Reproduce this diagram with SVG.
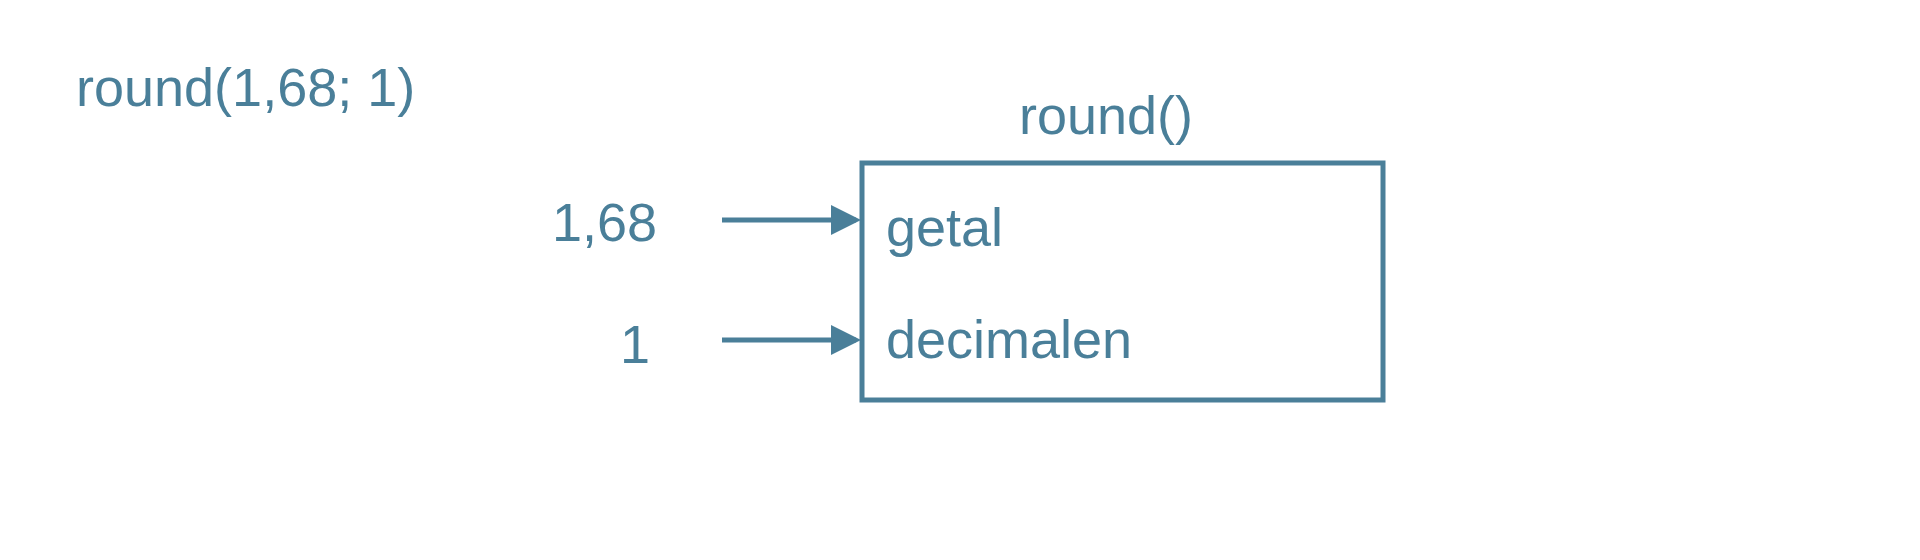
<svg xmlns="http://www.w3.org/2000/svg" width="1920" height="560" viewBox="0 0 1920 560">
<style>
text{font-family:"Liberation Sans",Arial,sans-serif;fill:#4a7f99;font-size:54px}
.c{stroke:#4a7f99;stroke-width:5;fill:none}
</style>
<defs><marker id="a" markerWidth="6" markerHeight="6" refX="5" refY="3" orient="auto" markerUnits="strokeWidth"><path d="M0,0L6,3L0,6z" fill="#4a7f99"/></marker></defs>
<rect width="1920" height="560" fill="#fff"/>
<g id="expr"><text x="76" y="106">round(1,68; 1)</text></g>
<g id="func"><rect class="c" x="862" y="163" width="521" height="237"/>
<text x="1106" y="134" text-anchor="middle">round()</text>
<text x="886" y="246">getal</text>
<text x="886" y="358">decimalen</text></g>
<g id="in1"><text x="657" y="241" text-anchor="end">1,68</text></g>
<g id="in2"><text x="650" y="363" text-anchor="end">1</text></g>
<g id="connectors">
<line class="c" x1="722" y1="220" x2="856" y2="220" marker-end="url(#a)"/>
<line class="c" x1="722" y1="340" x2="856" y2="340" marker-end="url(#a)"/>
</g>
</svg>
